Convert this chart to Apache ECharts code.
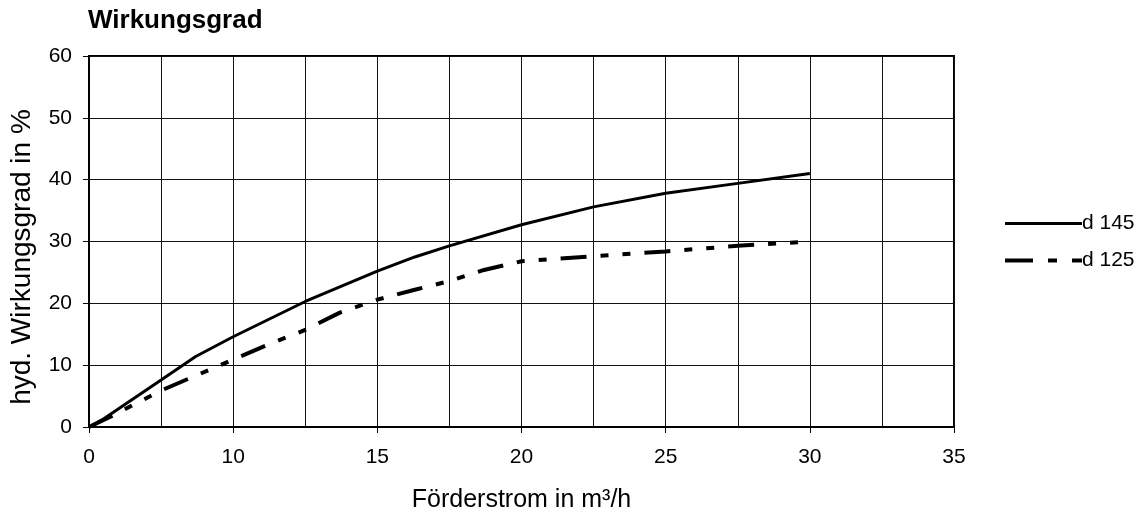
<!DOCTYPE html>
<html>
<head>
<meta charset="utf-8">
<script src="https://cdn.jsdelivr.net/npm/echarts@6/dist/echarts.min.js"></script>
<style>
html,body{margin:0;padding:0;background:#fff;}
#chart{width:1142px;height:519px;}
</style>
</head>
<body>
<div id="chart"></div>
<script>
// Tick labels as printed on the x axis (note: first label reads "0")
const xTickLabels = ['0', '10', '15', '20', '25', '30', '35'];
const yTickLabels = ['0', '10', '20', '30', '40', '50', '60'];
const seriesNames = ['d 145', 'd 125'];

// Values, x in axis units (first tick = 5 on the internal scale)
const d145X = [5, 5.5, 7.5, 8.7, 10, 12.5, 15, 16.3, 17.5, 20, 22.5, 25, 27.5, 30];
const d145Y = [0, 1.3, 7.6, 11.4, 14.6, 20.3, 25.2, 27.5, 29.3, 32.7, 35.6, 37.8, 39.4, 41.0];

const d125X = [5, 5.8, 7.5, 8.7, 10, 11.3, 12.5, 13.7, 15, 16.3, 17.5, 18.7, 20, 22.5, 25, 27.5, 30];
const d125Y = [0, 1.8, 5.9, 8.3, 10.9, 13.5, 15.7, 18.5, 20.6, 22.2, 23.6, 25.4, 26.8, 27.6, 28.4, 29.3, 30.0];

const pairs = (xs, ys) => xs.map((x, i) => [x, ys[i]]);

const chart = echarts.init(document.getElementById('chart'), null, {renderer: 'canvas'});
const FONT = 'Liberation Sans, Arial, sans-serif';
const DASH = [26, 14, 8, 14, 8, 14];

chart.setOption({
  animation: false,
  backgroundColor: '#fff',
  textStyle: {fontFamily: FONT, color: '#000'},
  title: {
    text: 'Wirkungsgrad',
    left: 83, top: 3,
    textStyle: {fontFamily: FONT, fontSize: 26, fontWeight: 'bold', color: '#000'}
  },
  grid: {
    left: 88, right: 188, top: 56, bottom: 92,
    show: true, borderColor: '#000', borderWidth: 2, backgroundColor: 'transparent'
  },
  legend: {
    orient: 'vertical',
    left: 998, top: 208,
    itemWidth: 77, itemHeight: 14, itemGap: 16,
    data: [
      {name: seriesNames[0], itemStyle: {opacity: 0}, lineStyle: {color: '#000', width: 3, type: 'solid'}},
      {name: seriesNames[1], itemStyle: {opacity: 0}, lineStyle: {color: '#000', width: 4, type: [28, 15, 9, 15, 9, 0], cap: 'butt'}}
    ],
    textStyle: {fontFamily: FONT, fontSize: 21, color: '#000', padding: [0, 0, 0, -5]},
    selectedMode: false
  },
  xAxis: {
    type: 'value',
    min: 5, max: 35, interval: 5,
    name: 'Förderstrom in m³/h',
    nameLocation: 'middle', nameGap: 61,
    nameTextStyle: {fontFamily: FONT, fontSize: 25, color: '#000'},
    axisLine: {show: true, onZero: false, lineStyle: {color: '#000', width: 2}},
    axisTick: {show: true, length: 6, lineStyle: {color: '#000', width: 1}},
    axisLabel: {
      margin: 20, fontFamily: FONT, fontSize: 21, color: '#000',
      formatter: v => xTickLabels[Math.round((v - 5) / 5)]
    },
    splitLine: {show: true, lineStyle: {color: '#111', width: 1}},
    minorTick: {show: false, splitNumber: 2},
    minorSplitLine: {show: true, lineStyle: {color: '#111', width: 1}}
  },
  yAxis: {
    type: 'value',
    min: 0, max: 60, interval: 10,
    name: 'hyd. Wirkungsgrad in %',
    nameLocation: 'middle', nameGap: 53, nameRotate: 90,
    nameTextStyle: {fontFamily: FONT, fontSize: 28, color: '#000', padding: [0, 31, 0, 0]},
    axisLine: {show: true, lineStyle: {color: '#000', width: 2}},
    axisTick: {show: true, length: 6, lineStyle: {color: '#000', width: 1}},
    axisLabel: {
      margin: 17, fontFamily: FONT, fontSize: 21, color: '#000',
      formatter: v => yTickLabels[Math.round(v / 10)]
    },
    splitLine: {show: true, lineStyle: {color: '#111', width: 1}}
  },
  series: [
    {
      name: seriesNames[0], type: 'line', data: pairs(d145X, d145Y),
      symbol: 'none', smooth: false, color: '#000',
      lineStyle: {color: '#000', width: 3, type: 'solid'}
    },
    {
      name: seriesNames[1], type: 'line', data: pairs(d125X, d125Y),
      symbol: 'none', smooth: false, color: '#000',
      lineStyle: {color: '#000', width: 4, type: DASH, cap: 'butt'}
    }
  ]
});
</script>
</body>
</html>
